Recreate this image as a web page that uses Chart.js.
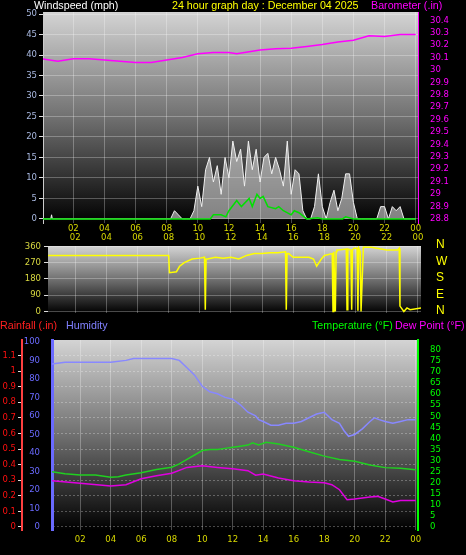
<!DOCTYPE html>
<html><head><meta charset="utf-8">
<script src="https://cdn.jsdelivr.net/npm/chart.js@4"></script>
<style>
body{margin:0;background:#000;width:466px;height:555px;overflow:hidden;position:relative;font-family:"Liberation Sans",sans-serif}
canvas{position:absolute;left:0}
.t{position:absolute;font-size:10.7px;white-space:nowrap}
</style></head><body>
<canvas id="c1" style="top:0px" width="466" height="240"></canvas>
<canvas id="c2" style="top:230px" width="466" height="110"></canvas>
<canvas id="c3" style="top:315px" width="466" height="240"></canvas>
<div class="t" style="left:34px;top:-1px;color:#fff">Windspeed (mph)</div>
<div class="t" style="left:172px;top:-1px;color:#ffff00">24 hour graph day : December 04 2025</div>
<div class="t" style="left:371px;top:-1px;color:#ff00ff">Barometer (.in)</div>
<div class="t" style="left:436px;top:236px;color:#ffff00;font-size:12px;line-height:16.5px">N<br>W<br>S<br>E<br>N</div>
<div class="t" style="left:0px;top:319px;color:#ff2020">Rainfall (.in)</div>
<div class="t" style="left:66px;top:319px;color:#8080ff">Humidity</div>
<div class="t" style="left:312px;top:319px;color:#00ff00">Temperature (°F)</div>
<div class="t" style="left:395px;top:319px;color:#ff00ff">Dew Point (°F)</div>
<script>
// ---------- data ----------
const baroHours=[0,1,2,3,4,5,6,7,8,9,10,11,12,12.5,13,14,15,16,17,18,19,20,21,22,23,24];
const baroVals=[30.09,30.07,30.09,30.09,30.08,30.07,30.06,30.06,30.08,30.10,30.13,30.14,30.14,30.13,30.14,30.16,30.17,30.175,30.19,30.205,30.225,30.24,30.275,30.27,30.285,30.285];
const gustHours=[0,0.55,0.6,0.65,8,8.25,8.5,8.75,9,9.25,9.5,9.75,10,10.25,10.5,10.75,11,11.25,11.5,11.75,12,12.25,12.5,12.75,13,13.25,13.5,13.75,14,14.25,14.5,14.75,15,15.25,15.5,15.75,16,16.25,16.5,16.75,17,17.25,17.5,17.75,18,18.25,18.5,18.75,19,19.25,19.5,19.75,20,20.25,20.5,20.75,21,21.25,21.5,21.75,22,22.25,22.5,22.75,23,23.25,23.5,23.75,24];
const gustVals=[0,0,1,0,0,0,2,1,0,0,0,2,8,3,12,15,9,13,6,15,10,19,14,17,8,19,12,17,9,15,16,11,15,12,8,19,6,12,11,2,0,0,3,11,3,0,4,7,2,5,11,11,4,0,0,0,0,0,0,3,3,0,3,2,3,0,0,0,0];
const avgHours=[0,10.8,11,11.5,11.8,12,12.5,12.8,13.3,13.5,13.8,14,14.2,14.5,15,15.2,15.5,16,16.2,16.5,17,17.7,18,19.3,19.5,20,24];
const avgVals=[0,0,1,1,0.5,2,4.5,3,5,3,6,5,5.5,3,2.5,3,2,1,2,1.5,0,0.3,0,0,0.5,0,0];
const dirHours=[0.2,8,8.05,8.5,8.7,9,9.5,10,10.3,10.35,10.4,10.5,11,11.5,12,12.5,13,13.5,14,14.5,15,15.5,15.55,15.6,15.7,16,17,17.3,17.5,17.8,18,18.5,18.55,18.6,18.7,18.75,18.8,18.9,19.4,19.45,19.5,19.7,19.75,19.8,19.9,20.1,20.15,20.2,20.3,20.35,20.4,20.5,21,22,22.7,22.8,22.85,23.1,23.3,23.5,24.2];
const dirVals=[310,310,215,220,250,270,290,295,300,10,290,290,300,295,300,290,310,320,320,325,325,330,10,320,320,300,300,290,250,290,310,320,0,330,0,330,340,340,345,10,345,340,10,340,350,350,5,350,330,0,0,355,355,340,340,350,30,0,20,10,20];
const humHours=[0.1,1,2,3,4,5,5.5,6,7,8,8.5,9,9.5,10,10.5,11,11.5,12,12.5,13,13.5,13.7,14,14.5,15,15.5,16,16.5,17,17.5,18,18.5,19,19.3,19.6,20,20.5,21,21.3,21.6,22,22.5,23,23.5,24];
const humVals=[88,89,89,89,89,90,91,91,91,91,90,86,82,76,73,72,70,69,66,62,60,58,57,55,55,56,56,57,59,61,62,58,56,52,49,50,53,57,59,58,57,56,57,58,58];
const tempHours=[0.1,1,2,3,4,4.5,5,6,7,8,8.5,9,9.5,10,10.5,11,11.5,12,12.5,13,13.3,13.7,14.2,15,16,17,18,19,20,21,22,23,24];
const tempVals=[25,24,23.5,23.5,22.5,22.7,23.5,24.5,26,27,28.5,30.5,32.5,34.5,35,35,35.5,36,36.5,37,38,37,38.3,37.5,36,34,32,30.5,29.7,28,26.8,26.5,25.8];
const dewHours=[0.1,2,4,5,6,7,8,9,10,11,12,13,13.5,14,15,16,17,18,18.5,19,19.5,20,21,21.5,22,22.5,23,24];
const dewVals=[20.9,19.7,18.5,19.1,21.8,23.1,24.3,26.9,27.6,26.9,26.3,25.4,23.4,23.9,22.1,20.9,20.3,20,19.1,16.8,12.3,12.6,13.5,13.8,12.6,11.3,11.9,11.9];
const rainHours=[0.1,11.4,11.45,24,24.1];
const rainVals=[0,0,0.01,0.01,0];
const markerHours=[7.3,16.8];
const markerVals=[0.09,0.09];
const windTicks=[0,5,10,15,20,25,30,35,40,45,50];
const baroTicks=[28.8,28.9,29,29.1,29.2,29.3,29.4,29.5,29.6,29.7,29.8,29.9,30,30.1,30.2,30.3,30.4];
const dirTicks=[0,90,180,270,360];
const humTicks=[0,10,20,30,40,50,60,70,80,90,100];
const rainTicks=[0,0.1,0.2,0.3,0.4,0.5,0.6,0.7,0.8,0.9,1,1.1];
const tempTicks=[0,5,10,15,20,25,30,35,40,45,50,55,60,65,70,75,80];
const hourTicks=[2,4,6,8,10,12,14,16,18,20,22,24];

// ---------- helpers ----------
const pts=(xs,ys)=>xs.map((x,i)=>({x,y:ys[i]}));
const F={family:'"DejaVu Sans",sans-serif',size:8.5};
const bg={id:'bg',beforeDraw(c){const a=c.chartArea,x=c.ctx;const g=x.createLinearGradient(0,a.top,0,a.bottom);
 g.addColorStop(0,'#d4d4d4');g.addColorStop(0.5,'#707070');g.addColorStop(1,'#000');
 x.save();x.fillStyle=g;x.fillRect(a.left,a.top,a.right-a.left,a.bottom-a.top);x.restore();}};
const fix=t=>s=>{s.ticks=t.map(v=>({value:v}));};
const num=v=>String(Math.round(v*10)/10);
const grid={color:'rgba(255,255,255,0.28)',tickColor:'#ddd',tickLength:4};
function xAxis(min,max,pos,h,pad){return{type:'linear',position:pos,min,max,afterBuildTicks:fix(hourTicks),
 afterFit:s=>{s.height=h},grid:{...grid,drawTicks:false},border:{display:false},
 ticks:{color:'#d8d800',font:F,padding:pad,autoSkip:false,maxRotation:0,callback:v=>String(v%24).padStart(2,'0')}};}
const yt=(c,p)=>({color:c,font:F,padding:p,autoSkip:false,callback:num});
Chart.defaults.animation=false;Chart.defaults.plugins.legend.display=false;Chart.defaults.plugins.tooltip.enabled=false;
Chart.defaults.elements.point.radius=0;Chart.defaults.responsive=false;

// ---------- chart 1 ----------
new Chart(document.getElementById('c1'),{type:'scatter',plugins:[bg],
 data:{datasets:[
  {data:pts(avgHours,avgVals),showLine:true,borderColor:'#00e000',borderWidth:1.5,yAxisID:'y'},
  {data:pts(gustHours,gustVals),showLine:true,borderColor:'#f0f0f0',borderWidth:1,fill:'origin',backgroundColor:'rgba(235,235,235,0.55)',yAxisID:'y'},
  {data:pts(baroHours,baroVals),showLine:true,borderColor:'#ff00ff',borderWidth:1.5,yAxisID:'b'}]},
 options:{layout:{padding:{top:12}},scales:{
  x:xAxis(0.05,24.15,'bottom',17,1),
  y:{position:'left',min:-1,max:50.5,afterBuildTicks:fix(windTicks),afterFit:s=>{s.width=43},grid:{...grid,borderDash:[1,2]},border:{color:'#ccc'},ticks:yt('#a8b8e0',2)},
  b:{position:'right',min:28.767,max:30.467,afterBuildTicks:fix(baroTicks),afterFit:s=>{s.width=48},grid:{display:false},border:{color:'#ff00ff'},ticks:yt('#ff00ff',4)}}}});

// ---------- chart 2 ----------
new Chart(document.getElementById('c2'),{type:'scatter',plugins:[bg],
 data:{datasets:[{data:pts(dirHours,dirVals),showLine:true,borderColor:'#ffff00',borderWidth:1.5}]},
 options:{layout:{padding:{bottom:27,right:45}},scales:{
  x:xAxis(0.25,24.2,'top',16,3),
  y:{min:-8,max:362,afterBuildTicks:fix(dirTicks),afterFit:s=>{s.width=48},grid:{...grid,borderDash:[1,2]},border:{display:false},ticks:yt('#d8d840',3)}}}});

// ---------- chart 3 ----------
const markerData=[];markerHours.forEach((h,i)=>{markerData.push({x:h,y:0},{x:h,y:markerVals[i]},{x:h,y:NaN});});
new Chart(document.getElementById('c3'),{type:'scatter',plugins:[bg],
 data:{datasets:[
  {data:pts(rainHours,rainVals),showLine:true,borderColor:'#ff0000',borderWidth:3,yAxisID:'r'},
  {data:markerData,showLine:true,spanGaps:false,borderColor:'#b0a000',borderWidth:2,yAxisID:'r'},
  {data:pts(dewHours,dewVals),showLine:true,borderColor:'#e000e0',borderWidth:1.5,yAxisID:'t'},
  {data:pts(tempHours,tempVals),showLine:true,borderColor:'#20d020',borderWidth:1.5,yAxisID:'t'},
  {data:pts(humHours,humVals),showLine:true,borderColor:'#8888ff',borderWidth:1.5,yAxisID:'h'}]},
 options:{layout:{padding:{top:25}},scales:{
  x:xAxis(0.15,24.15,'bottom',25,5),
  h:{position:'left',min:-1.6,max:101,afterBuildTicks:fix(humTicks),afterFit:s=>{s.width=30},grid:{display:false},border:{color:'#6a6aff',width:3},ticks:yt('#6a6aff',4)},
  r:{position:'left',min:-0.02,max:1.2,afterBuildTicks:fix(rainTicks),afterFit:s=>{s.width=22},grid:{...grid,borderDash:[1,2]},border:{color:'#ff4040',width:2,dash:[2,2]},ticks:yt('#ff1010',2)},
  t:{position:'right',min:-1.4,max:84.5,afterBuildTicks:fix(tempTicks),afterFit:s=>{s.width=48},grid:{display:false},border:{color:'#00ff00',width:2},ticks:yt('#00ff00',4)}}}});
</script></body></html>
